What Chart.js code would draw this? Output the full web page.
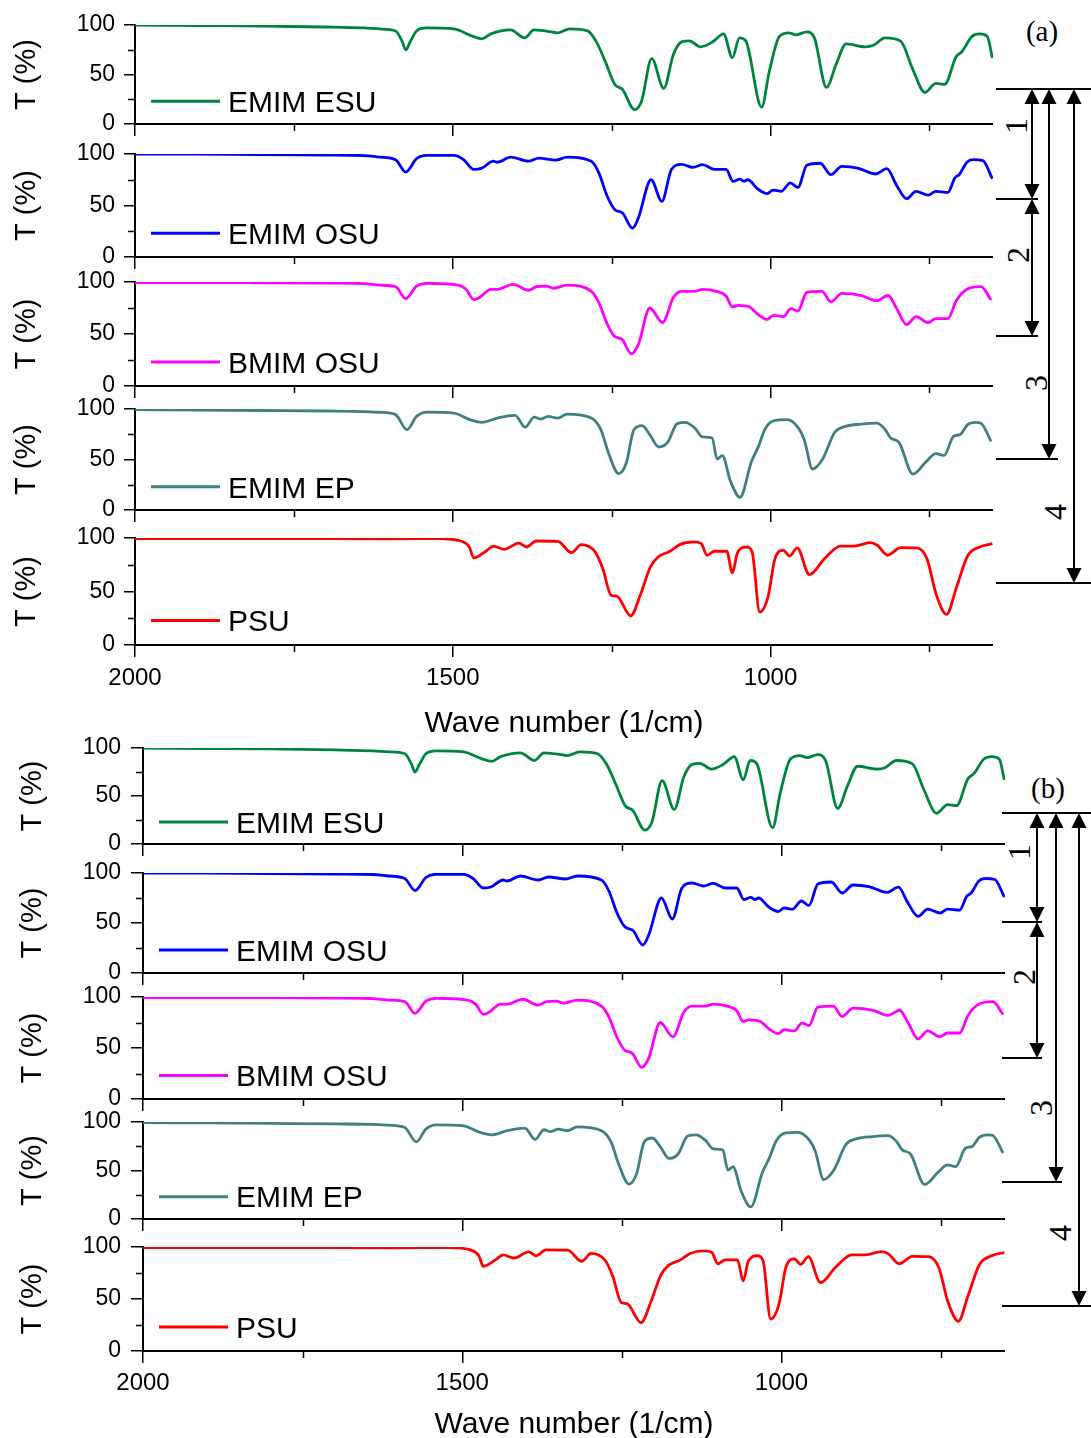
<!DOCTYPE html>
<html><head><meta charset="utf-8">
<script src="https://cdn.jsdelivr.net/npm/chart.js@4.4.0/dist/chart.umd.min.js"></script>
<style>
html,body{margin:0;padding:0;background:#fff}
body{width:1091px;height:1438px;position:relative;overflow:hidden;font-family:"Liberation Sans",Arial,sans-serif}
canvas{position:absolute}
#ann{position:absolute;left:0;top:0}
</style></head><body>
<svg id="ann" width="1091" height="1438" xmlns="http://www.w3.org/2000/svg"></svg>
<script>
// ---------------- DATA ----------------
const seriesNames = ['EMIM ESU', 'EMIM OSU', 'BMIM OSU', 'EMIM EP', 'PSU'];
const seriesColors = ['#00843d', '#0000ff', '#ff00ff', '#3f8080', '#ff0000'];

// [wave number (1/cm), transmittance T (%)]
const emimEsu = [[2000,100],[1900,99.5],[1800,99],[1700,98],[1640,97],[1615,96],[1590,94],[1580,84],[1574,75],[1567,83],[1557,94],[1541,97],[1498,96],[1470,89],[1454,86],[1440,91],[1409,95],[1387,87],[1372,95],[1344,93],[1336,92],[1316,96],[1288,94],[1274,83],[1260,63],[1245,40],[1233,35],[1214,14.5],[1203,23],[1187,66],[1168,36],[1153,70],[1140,83],[1128,84],[1110,78],[1091,83],[1074,91],[1060,67],[1049,87],[1039,84],[1014,17],[1002,53],[986,88.5],[971,92],[960,90],[943,93],[931,87],[912,37],[897,60],[881,81],[851,78],[838,79.5],[820,87],[795,83.5],[777,56.5],[757,32],[740,41],[726,40],[708,68],[699,73],[683,88.5],[671,91],[659,88.5],[651,66.7]];
const emimOsu = [[2000,100],[1900,99.8],[1800,99.5],[1700,99],[1640,98.5],[1615,97],[1590,94.5],[1574,82.5],[1557,95.5],[1541,98.7],[1498,98.7],[1483,94.5],[1467,85],[1455,86],[1436,93],[1430,92],[1409,97],[1381,93],[1365,96],[1338,94],[1320,97],[1282,93],[1270,81.5],[1258,60.5],[1245,46],[1233,42.7],[1217,28],[1208,38],[1188,75],[1171,54],[1156,85],[1140,90],[1122,87],[1107,89.6],[1088,85],[1070,85],[1059,73.5],[1048,75.7],[1042,73.5],[1036,75],[1020,66],[1005,61.5],[996,65],[983,63.8],[969,72],[957,67.6],[943,89],[922,91],[905,80],[888,88],[863,86.4],[835,80.6],[817,85.8],[802,70],[786,56.6],[771,63.8],[752,60],[740,63.8],[721,62.8],[710,76.7],[703,80],[691,92],[681,94.5],[666,93.5],[651,76]];
const bmimOsu = [[2000,99.5],[1900,99.5],[1800,99.3],[1700,99],[1640,98.5],[1615,97],[1590,95.5],[1574,84],[1557,96],[1541,98.7],[1492,97],[1479,93],[1467,83],[1458,85],[1440,93],[1430,93],[1405,97.8],[1381,92],[1368,95.5],[1353,96],[1341,94],[1320,97],[1282,91],[1270,80],[1258,61],[1246,48],[1234,45],[1219,31],[1208,40],[1190,75],[1170,61],[1153,85],[1140,91],[1119,91],[1107,93],[1085,91],[1070,86.5],[1060,76],[1051,77.6],[1033,76],[1020,69],[1005,64],[996,68],[980,66.7],[968,74.4],[957,72],[943,90],[919,91],[905,80.8],[888,89],[857,87],[833,82],[815,87],[802,75],[786,59],[771,66.7],[752,61],[740,64.7],[721,64.7],[708,81.7],[691,93],[669,95.5],[653,82.7]];
const emimEp = [[2000,99.5],[1900,99],[1800,98.5],[1700,98],[1640,97.5],[1615,96.7],[1590,94.4],[1572,79.5],[1557,92.7],[1541,97],[1498,96],[1473,89.4],[1454,86.8],[1430,91],[1402,93.7],[1386,82],[1372,92],[1362,90],[1350,92.7],[1335,91],[1320,95],[1282,91],[1267,79.5],[1255,56.4],[1239,36],[1227,46.5],[1215,79.5],[1202,83.5],[1190,74.6],[1176,62.4],[1162,67],[1147,85.5],[1134,86.8],[1119,81],[1107,72.3],[1092,71.3],[1084,50.5],[1076,53.8],[1063,28.4],[1048,12.5],[1030,48],[1019,63],[1008,81],[993,88.8],[974,89.4],[956,81],[947,69.6],[934,40.6],[918,50.5],[899,77],[882,82.8],[857,85],[833,86],[820,80],[811,71.3],[798,67],[776,35.6],[755,48],[740,55.8],[727,54],[712,73],[702,74.6],[690,84.5],[677,86.8],[669,86],[653,68]];
const psu = [[2000,99.5],[1800,99.5],[1600,99.3],[1523,99.4],[1486,97],[1474,91.6],[1467,81.4],[1448,87.6],[1436,92.5],[1419,89.4],[1396,95.3],[1384,91.6],[1369,97.2],[1335,96.9],[1313,86.3],[1298,93.8],[1276,87],[1264,71.4],[1251,46.6],[1242,45.6],[1220,27.3],[1205,46.6],[1189,73],[1177,82.3],[1158,87.6],[1143,93.8],[1121,96.3],[1109,94.7],[1100,83.9],[1088,87.6],[1069,87.6],[1060,67.4],[1052,86.3],[1038,91.6],[1029,87],[1017,30.7],[1004,45],[993,80.7],[980,88.5],[970,83.2],[958,90.7],[939,65.8],[915,80.7],[890,92.5],[868,92.5],[844,95.6],[832,93.2],[816,83.9],[795,91],[770,90.7],[754,80.7],[739,46.6],[723,28.6],[708,52.8],[690,83.2],[671,91.6],[651,94.7]];
const seriesData = [emimEsu, emimOsu, bmimOsu, emimEp, psu];

const xMajorTicks = [2000, 1500, 1000];
const xMinorTicks = [1750, 1250, 750];
const yMajorTicks = [0, 50, 100];
const yMinorTicks = [25, 75];
const xRange = [650, 2000];
const xTitle = 'Wave number (1/cm)';
const yTitle = 'T (%)';
const legendValue = 23;

// ---------------- LAYOUT ----------------
const FONT = '"Liberation Sans", Arial, sans-serif';
Chart.defaults.font.family = FONT;
Chart.defaults.color = '#000';
const PADT = 18;
const panels = [
  {axisW:135, right:993, yTitlePad:10, yTickLen:11, yTickPad:9,
   rows:[[25,124],[154,257],[282,386],[409,510],[538,645]], lastBottom:98, xTickPad:7, xTitlePadB:1},
  {axisW:143, right:1005, yTitlePad:16, yTickLen:12, yTickPad:10,
   rows:[[748,844],[873,973],[997,1099],[1122,1219],[1247,1351]], lastBottom:92, xTickPad:6, xTitlePadB:0}
];

const minorTickPlugin = {
  id:'minorTicks',
  afterDraw(chart, args, o){
    const {ctx, scales:{x, y}} = chart;
    ctx.save(); ctx.strokeStyle = '#000'; ctx.lineWidth = 1.5;
    xMinorTicks.forEach(v => { const px = Math.round(x.getPixelForValue(v)) + 0.5;
      ctx.beginPath(); ctx.moveTo(px, x.top); ctx.lineTo(px, x.top + o.xLen); ctx.stroke(); });
    yMinorTicks.forEach(v => { const py = Math.round(y.getPixelForValue(v)) + 0.5;
      ctx.beginPath(); ctx.moveTo(y.right, py); ctx.lineTo(y.right - o.yLen, py); ctx.stroke(); });
    ctx.restore();
  }
};
const inlineLegendPlugin = {
  id:'inlineLegend',
  afterDatasetsDraw(chart, args, o){
    const {ctx, chartArea, scales:{y}} = chart;
    const ds = chart.data.datasets[0];
    const py = y.getPixelForValue(o.value);
    ctx.save();
    ctx.strokeStyle = ds.borderColor; ctx.lineWidth = 3;
    ctx.beginPath(); ctx.moveTo(chartArea.left + o.dx1, py); ctx.lineTo(chartArea.left + o.dx2, py); ctx.stroke();
    ctx.fillStyle = '#000'; ctx.font = o.size + 'px ' + FONT;
    ctx.textAlign = 'left'; ctx.textBaseline = 'alphabetic';
    ctx.fillText(ds.label, chartArea.left + o.dxT, py + o.size * 0.358);
    ctx.restore();
  }
};

panels.forEach(p => {
  p.rows.forEach((r, i) => {
    const isLast = i === p.rows.length - 1;
    const bottomH = isLast ? p.lastBottom : 16;
    const cv = document.createElement('canvas');
    const W = p.right, H = PADT + (r[1] - r[0]) + bottomH;
    cv.width = W; cv.height = H;
    cv.style.left = '0px'; cv.style.top = (r[0] - PADT) + 'px';
    cv.style.width = W + 'px'; cv.style.height = H + 'px';
    document.body.appendChild(cv);
    new Chart(cv, {
      type:'line',
      data:{datasets:[{
        label: seriesNames[i],
        data: seriesData[i].map(([x, y]) => ({x, y})),
        borderColor: seriesColors[i], borderWidth: 2.8,
        pointRadius: 0, fill: false, cubicInterpolationMode: 'monotone'
      }]},
      options:{
        responsive:false, animation:false, devicePixelRatio:1,
        layout:{padding:{top:PADT, left:0, right:0, bottom:0}},
        plugins:{
          legend:{display:false}, tooltip:{enabled:false},
          inlineLegend:{dx1:16, dx2:85, dxT:93, value:legendValue, size:30},
          minorTicks:{xLen:7, yLen:7}
        },
        scales:{
          x:{
            type:'linear', reverse:true, min:xRange[0], max:xRange[1],
            afterBuildTicks: s => { s.ticks = xMajorTicks.map(v => ({value:v})); },
            afterFit: s => { s.height = bottomH; s.paddingLeft = 0; s.paddingRight = 0; },
            border:{display:true, color:'#000', width:2},
            grid:{drawOnChartArea:false, drawTicks:true, tickLength:12, color:'#000', lineWidth:1.5},
            ticks:{display:isLast, font:{size:24}, color:'#000', padding:p.xTickPad, maxRotation:0, autoSkip:false, callback: v => String(v)},
            title:{display:isLast, text:xTitle, font:{size:30}, color:'#000', padding:{top:0, bottom:p.xTitlePadB}}
          },
          y:{
            min:0, max:100,
            afterBuildTicks: s => { s.ticks = yMajorTicks.map(v => ({value:v})); },
            afterFit: s => { s.width = p.axisW; s.paddingTop = 0; s.paddingBottom = 0; },
            border:{display:true, color:'#000', width:2},
            grid:{drawOnChartArea:false, drawTicks:true, tickLength:p.yTickLen, color:'#000', lineWidth:1.5},
            ticks:{font:{size:23}, color:'#000', padding:p.yTickPad, callback: v => String(v)},
            title:{display:true, text:yTitle, font:{size:29}, color:'#000', padding:{top:p.yTitlePad, bottom:0}}
          }
        }
      },
      plugins:[inlineLegendPlugin, minorTickPlugin]
    });
  });
});

// ---------------- ANNOTATIONS (arrows/brackets) ----------------
const annotations = [
  {hLines:[[89,996,1091],[199,996,1038],[336,996,1038],[459,996,1058],[583,996,1091]],
   arrows:[[1032,89,199],[1032,199,336],[1049,89,459],[1074,89,583]],
   labels:[['1',1016,126],['2',1018,255],['3',1036,383],['4',1055,512]], tag:['(a)',1042,31]},
  {hLines:[[813,1002,1091],[922,1002,1042],[1058,1002,1042],[1182,1002,1062],[1306,1002,1091]],
   arrows:[[1037,813,922],[1037,922,1058],[1056,813,1182],[1079,813,1306]],
   labels:[['1',1019,852],['2',1024,977],['3',1041,1108],['4',1060,1233]], tag:['(b)',1048,788]}
];
const svg = document.getElementById('ann');
const NS = 'http://www.w3.org/2000/svg';
function el(name, attrs, text){ const e = document.createElementNS(NS, name);
  for (const k in attrs) e.setAttribute(k, attrs[k]); if (text) e.textContent = text; svg.appendChild(e); return e; }
const AH = 15, AW = 7.5;
annotations.forEach(a => {
  a.hLines.forEach(([y, x1, x2]) => el('line', {x1, y1:y, x2, y2:y, stroke:'#000', 'stroke-width':2}));
  a.arrows.forEach(([x, y1, y2]) => {
    el('line', {x1:x, y1:y1 + AH - 2, x2:x, y2:y2 - AH + 2, stroke:'#000', 'stroke-width':2});
    el('polygon', {points:`${x},${y1} ${x-AW},${y1+AH} ${x+AW},${y1+AH}`, fill:'#000'});
    el('polygon', {points:`${x},${y2} ${x-AW},${y2-AH} ${x+AW},${y2-AH}`, fill:'#000'});
  });
  a.labels.forEach(([t, x, y]) => el('text', {x, y, 'text-anchor':'middle', 'dominant-baseline':'central',
    'font-family':'"Liberation Serif", "Times New Roman", serif', 'font-size':32, fill:'#000',
    transform:`rotate(-90 ${x} ${y})`}, t));
  el('text', {x:a.tag[1], y:a.tag[2], 'text-anchor':'middle', 'dominant-baseline':'central',
    'font-family':'"Liberation Serif", "Times New Roman", serif', 'font-size':29, fill:'#000'}, a.tag[0]);
});
</script>
</body></html>
